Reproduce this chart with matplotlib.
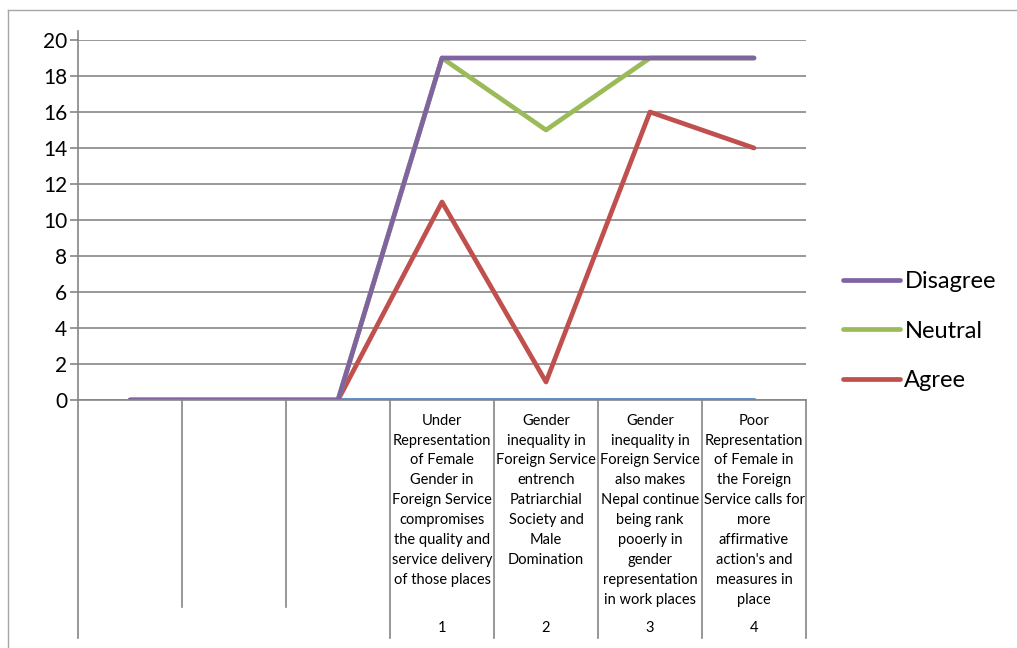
import numpy as np
import matplotlib
matplotlib.use("Agg")
import matplotlib.pyplot as plt
from matplotlib.lines import Line2D
import matplotlib.transforms as mtransforms

plt.rcParams['font.family'] = ['Lato', 'DejaVu Sans']

# seven category slots: three empty ones, then the four statements
statements = [
    "",
    "",
    "",
    "Under\nRepresentation\nof Female\nGender in\nForeign Service\ncompromises\nthe quality and\nservice delivery\nof those places",
    "Gender\ninequality in\nForeign Service\nentrench\nPatriarchial\nSociety and\nMale\nDomination",
    "Gender\ninequality in\nForeign Service\nalso makes\nNepal continue\nbeing rank\npooerly in\ngender\nrepresentation\nin work places",
    "Poor\nRepresentation\nof Female in\nthe Foreign\nService calls for\nmore\naffirmative\naction's and\nmeasures in\nplace",
]
serial = ["", "", "", "1", "2", "3", "4"]

unnamed = [0, 0, 0, 0, 0, 0, 0]
agree = [0, 0, 0, 11, 1, 16, 14]
neutral = [0, 0, 0, 19, 15, 19, 19]
disagree = [0, 0, 0, 19, 19, 19, 19]

grid_col = '#868686'
W, H = 1017, 648

fig = plt.figure(figsize=(W / 100, H / 100), dpi=100)
ax = fig.add_axes([78 / W, 1 - 400 / H, 728 / W, 360 / H])

x = np.arange(len(statements))
style = dict(lw=3.4, solid_capstyle='round', solid_joinstyle='round')
ax.plot(x, unnamed, color='#4F81BD', label='_nolegend_', **style)
l_agr, = ax.plot(x, agree, color='#C0504D', label='Agree', **style)
l_neu, = ax.plot(x, neutral, color='#9BBB59', label='Neutral', **style)
l_dis, = ax.plot(x, disagree, color='#8064A2', label='Disagree', **style)

ax.set_xlim(-0.5, 6.5)
ax.set_ylim(0, 20)
ax.set_yticks(np.arange(0, 21, 2))
ax.set_xticks([])
ax.yaxis.grid(True, color=grid_col, lw=1.2)
ax.set_axisbelow(True)
for s in ['top', 'right']:
    ax.spines[s].set_visible(False)
for s in ['left', 'bottom']:
    ax.spines[s].set_color(grid_col)
    ax.spines[s].set_linewidth(1.2)
ax.tick_params(axis='y', length=5.8, width=1.2, color=grid_col, pad=2,
               labelsize=15)

# category table below the axis
trans = mtransforms.blended_transform_factory(ax.transData, ax.transAxes)
for i, lab in enumerate(statements):
    ax.text(i, -0.038, lab, transform=trans, ha='center', va='top',
            fontsize=10.5, linespacing=1.535)
    ax.text(i, -0.633, serial[i], transform=trans, ha='center', va='center',
            fontsize=10.5)
for b in np.arange(-0.5, 7, 1.0):
    low = -0.575 if b in (0.5, 1.5) else -0.661
    ax.plot([b, b], [0, low], transform=trans, color=grid_col, lw=1.2,
            clip_on=False)
ax.plot([-0.5, -0.5], [1, 1.024], transform=trans, color=grid_col, lw=1.2,
        clip_on=False)

fig.legend(handles=[l_dis, l_neu, l_agr], loc='center left',
           bbox_to_anchor=(843 / W, 1 - 331 / H), frameon=False, fontsize=17,
           handlelength=2.4, handletextpad=0.2, labelspacing=1.2,
           borderpad=0, borderaxespad=0)

# chart area border
fig.add_artist(Line2D([8 / W, 8 / W], [0, 1 - 10 / H], transform=fig.transFigure,
                      color='#a6a6a6', lw=1))
fig.add_artist(Line2D([8 / W, 1], [1 - 10 / H, 1 - 10 / H],
                      transform=fig.transFigure, color='#a6a6a6', lw=1))

fig.savefig('out.png', dpi=100)
